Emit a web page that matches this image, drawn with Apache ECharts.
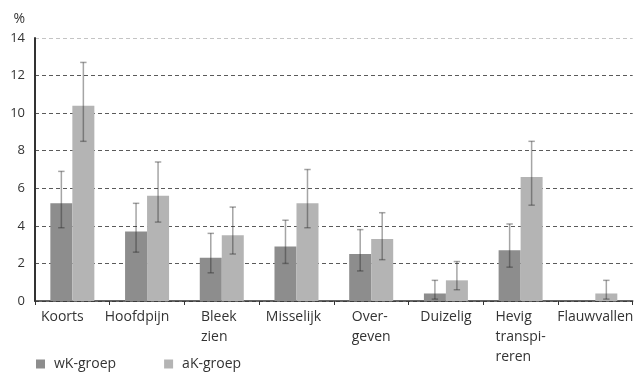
<!DOCTYPE html>
<html>
<head>
<meta charset="utf-8">
<script src="https://cdn.jsdelivr.net/npm/echarts@6/dist/echarts.min.js"></script>
<style>html,body{margin:0;padding:0;background:#fff}#c{width:636px;height:374px}</style>
</head>
<body>
<div id="c"></div>
<script>
const categories = ['Koorts', 'Hoofdpijn', 'Bleek\nzien', 'Misselijk', 'Over-\ngeven', 'Duizelig', 'Hevig\ntranspi-\nreren', 'Flauwvallen'];
const yTicks = [0, 2, 4, 6, 8, 10, 12, 14];
const wkValues = [5.2, 3.7, 2.3, 2.9, 2.5, 0.4, 2.7, 0];
const wkLow  = [3.9, 2.6, 1.5, 2.0, 1.6, 0.1, 1.8, null];
const wkHigh = [6.9, 5.2, 3.6, 4.3, 3.8, 1.1, 4.1, null];
const akValues = [10.4, 5.6, 3.5, 5.2, 3.3, 1.1, 6.6, 0.4];
const akLow  = [8.5, 4.2, 2.5, 3.9, 2.2, 0.6, 5.1, 0.1];
const akHigh = [12.7, 7.4, 5.0, 7.0, 4.7, 2.1, 8.5, 1.1];

const BAR_W = 22;
const chart = echarts.init(document.getElementById('c'), null, {renderer: 'canvas'});
const font = '"Open Sans", sans-serif';

function errData(lo, hi) {
  return lo.map((l, i) => (l == null ? null : [i, l, hi[i]])).filter(d => d);
}
function errRender(offset) {
  return function (params, api) {
    const x = api.value(0);
    const a = api.coord([x, api.value(1)]);
    const b = api.coord([x, api.value(2)]);
    const px = a[0] + offset;
    const st = {stroke: 'rgba(40,40,40,0.42)', lineWidth: 1.5};
    const cap = 3.2;
    return {
      type: 'group',
      children: [
        {type: 'line', shape: {x1: px, y1: a[1], x2: px, y2: b[1]}, style: st},
        {type: 'line', shape: {x1: px - cap, y1: a[1], x2: px + cap, y2: a[1]}, style: st},
        {type: 'line', shape: {x1: px - cap, y1: b[1], x2: px + cap, y2: b[1]}, style: st}
      ]
    };
  };
}

const splitColors = yTicks.map((t, i) => (i === yTicks.length - 1 ? '#c4c4c4' : '#5a5a5a'));
const labelRich = {align: 'left', fontSize: 14, color: '#333', lineHeight: 20, fontFamily: font};

chart.setOption({
  animation: false,
  backgroundColor: '#fff',
  textStyle: {fontFamily: font},
  grid: {left: 35, top: 38, bottom: 73, width: 605, containLabel: false},
  legend: {
    left: 31, bottom: -2, itemWidth: 9, itemHeight: 9, itemGap: 48, icon: 'rect',
    textStyle: {fontSize: 14, color: '#333', fontFamily: font, padding: [0, 0, 0, 4]},
    data: ['wK-groep', 'aK-groep']
  },
  xAxis: {
    type: 'category',
    data: categories,
    axisLine: {lineStyle: {color: '#333', width: 1.5}},
    axisTick: {show: true, length: 4, lineStyle: {color: '#333'}},
    axisLabel: {
      interval: 0, margin: 6,
      formatter: (v, i) => {
        const key = i < 2 ? 'b' : (i < 4 ? 'c' : 'a');
        return v.split('\n').map(s => '{' + key + '|' + s + '}').join('\n');
      },
      rich: {
        a: labelRich,
        b: Object.assign({}, labelRich, {padding: [0, 20, 0, 0]}),
        c: Object.assign({}, labelRich, {padding: [0, 6, 0, 0]})
      }
    }
  },
  yAxis: {
    type: 'value', min: 0, max: 14, interval: 2,
    name: '%', nameLocation: 'end', nameGap: 12,
    nameTextStyle: {align: 'right', padding: [0, 10, 0, 0], fontSize: 14, color: '#333', fontFamily: font},
    axisLine: {show: true, lineStyle: {color: '#333', width: 2}},
    axisTick: {show: false},
    axisLabel: {margin: 10, fontSize: 13, color: '#333', fontFamily: font},
    splitLine: {show: true, lineStyle: {color: splitColors, type: [4, 3], width: 1}}
  },
  series: [
    {name: 'wK-groep', type: 'bar', data: wkValues, barWidth: BAR_W, barGap: '0%',
      itemStyle: {color: '#8d8d8d'}},
    {name: 'aK-groep', type: 'bar', data: akValues, barWidth: BAR_W, barGap: '0%',
      itemStyle: {color: '#b4b4b4'}},
    {type: 'custom', renderItem: errRender(-BAR_W / 2), data: errData(wkLow, wkHigh), z: 5, silent: true},
    {type: 'custom', renderItem: errRender(BAR_W / 2), data: errData(akLow, akHigh), z: 5, silent: true}
  ]
});
</script>
</body>
</html>
